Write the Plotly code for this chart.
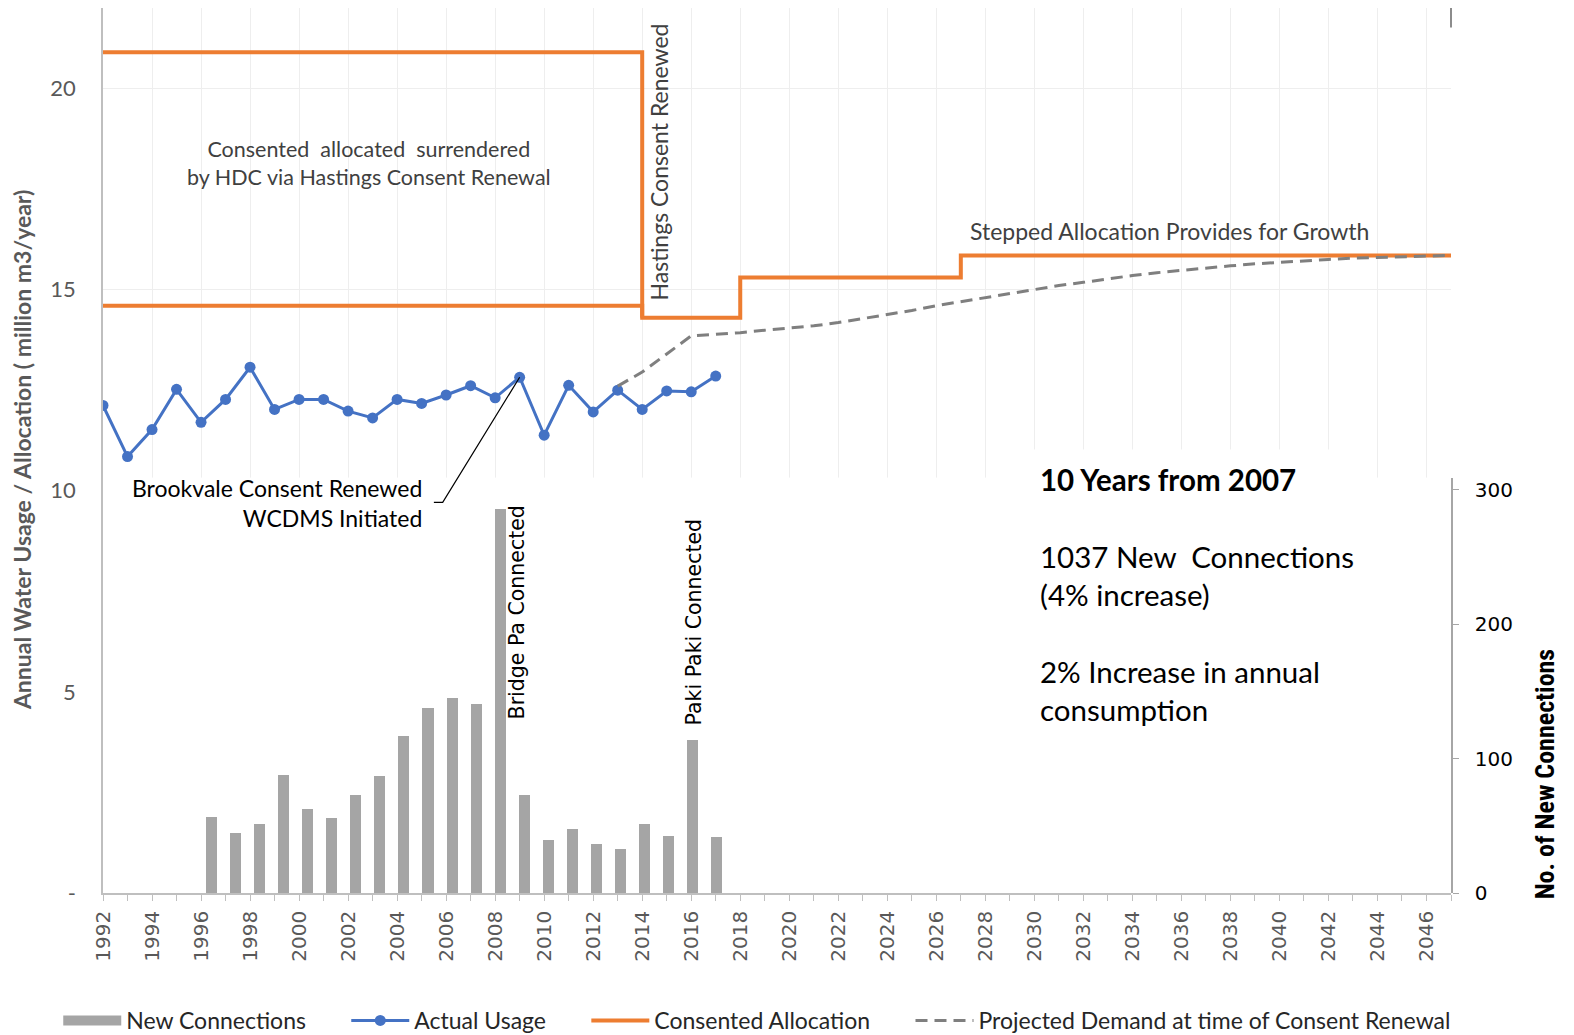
import plotly.graph_objects as go

# ---------------- data ----------------
usage_years = list(range(1992, 2018))
actual_usage = [12.12, 10.85, 11.52, 12.52, 11.70, 12.27, 13.07, 12.02, 12.27, 12.27,
                11.98, 11.81, 12.27, 12.17, 12.38, 12.61, 12.31, 12.82, 11.38, 12.62,
                11.96, 12.50, 12.02, 12.48, 12.46, 12.85]

conn_years = list(range(1996, 2018))
new_connections = [57, 45, 52, 88, 63, 56, 73, 87, 117, 138, 145, 141, 286, 73,
                   40, 48, 37, 33, 52, 43, 114, 42]

alloc_old_years = [1992, 2014]
alloc_old = [20.9, 14.3]
alloc_years = [1992, 2014, 2018, 2027, 2047]
alloc = [14.6, 14.3, 15.3, 15.85, 15.85]

proj_years = list(range(2013, 2048))
projected = [12.6, 12.95, 13.4, 13.85, 13.89, 13.93, 13.99, 14.05, 14.1, 14.18,
             14.28, 14.38, 14.48, 14.6, 14.7, 14.8, 14.9, 15.0, 15.1, 15.18,
             15.27, 15.35, 15.42, 15.48, 15.54, 15.59, 15.64, 15.68, 15.72, 15.75,
             15.78, 15.8, 15.82, 15.84, 15.85]

x_tick_vals = list(range(1992, 2047, 2))
left_tick_vals = [0, 5, 10, 15, 20]
left_tick_text = ["-", "5", "10", "15", "20"]
right_tick_vals = [0, 100, 200, 300]

BLUE = "#4472C4"
ORANGE = "#ED7D31"
BARGRAY = "#A5A5A5"
DASHGRAY = "#7F7F7F"
CAL = "Lato, 'Open Sans', sans-serif"
GOTH = "'DejaVu Sans', sans-serif"
PAD = "\u00a0" * 6

fig = go.Figure()

fig.add_trace(go.Bar(
    x=conn_years, y=new_connections, name="New Connections",
    marker=dict(color=BARGRAY, line=dict(width=0)), width=0.46,
    xaxis="x2", yaxis="y2", showlegend=False))

# legend proxy for the bars (wide grey swatch)
fig.add_trace(go.Scatter(
    x=[None], y=[None], name="New Connections" + PAD, mode="lines",
    line=dict(color=BARGRAY, width=14)))

fig.add_trace(go.Scatter(
    x=usage_years, y=actual_usage, name="Actual Usage" + PAD, mode="lines+markers",
    line=dict(color=BLUE, width=3), marker=dict(color=BLUE, size=11)))

fig.add_trace(go.Scatter(
    x=alloc_years, y=alloc, name="Consented Allocation" + PAD, mode="lines",
    line=dict(color=ORANGE, width=4, shape="hv")))

fig.add_trace(go.Scatter(
    x=alloc_old_years, y=alloc_old, name="Consented Allocation", mode="lines",
    line=dict(color=ORANGE, width=4, shape="hv"), showlegend=False))

fig.add_trace(go.Scatter(
    x=proj_years, y=projected, name="Projected Demand at time of Consent Renewal",
    mode="lines", line=dict(color=DASHGRAY, width=3, dash="12px,7px")))

annotations = [
    dict(x=2002.85, y=18.15, xref="x", yref="y", showarrow=False,
         text="Consented  allocated  surrendered<br>by HDC via Hastings Consent Renewal",
         font=dict(family=CAL, size=21.5, color="#404040"), align="center"),
    dict(x=2014.7, y=18.17, xref="x", yref="y", showarrow=False, textangle=-90,
         text="Hastings Consent Renewed",
         font=dict(family=CAL, size=23, color="#404040")),
    dict(x=2035.5, y=16.46, xref="x", yref="y", showarrow=False,
         text="Stepped Allocation Provides for Growth",
         font=dict(family=CAL, size=23, color="#404040")),
    dict(x=2005.1, y=9.70, xref="x", yref="y", showarrow=False, xanchor="right",
         align="right", text="Brookvale Consent Renewed<br>WCDMS Initiated",
         font=dict(family=CAL, size=23, color="#000000")),
    dict(x=2008.9, y=6.98, xref="x", yref="y", showarrow=False, textangle=-90,
         text="Bridge Pa Connected", font=dict(family=GOTH, size=20.5, color="#000000")),
    dict(x=2016.12, y=6.73, xref="x", yref="y", showarrow=False, textangle=-90,
         text="Paki Paki Connected", font=dict(family=GOTH, size=20.5, color="#000000")),
    dict(x=2029.7, y=7.43, xref="x", yref="y", showarrow=False, xanchor="left",
         yanchor="middle", align="left", bgcolor="white", borderpad=12,
         text="<b>10 Years from 2007</b><br><br>1037 New  Connections<br>(4% increase)"
              "<br><br>2% Increase in annual<br>consumption",
         font=dict(family=CAL, size=29.5, color="#000000")),
    dict(x=-0.060, y=0.5006, xref="paper", yref="paper", showarrow=False, textangle=-90,
         xanchor="center", yanchor="middle",
         text="<b>Annual Water Usage / Allocation ( million m3/year)</b>",
         font=dict(family=CAL, size=23, color="#595959")),
    dict(x=1.0704, y=0.134, xref="paper", yref="paper", showarrow=False, textangle=-90,
         xanchor="center", yanchor="middle",
         text="<b>No. of New Connections</b>",
         font=dict(family="'Liberation Sans Narrow', 'Roboto Condensed', sans-serif",
                   size=26, color="#000000")),
]

shapes = [
    dict(type="path", xref="x", yref="y",
         path="M 2005.5 9.71 L 2005.86 9.71 L 2009 12.82",
         line=dict(color="#000000", width=1.2)),
    dict(type="line", xref="paper", yref="paper", x0=1, x1=1, y0=0.978, y1=1.0,
         line=dict(color="#8C8C8C", width=2)),
]

# page body has an 8px margin: figure is sized to the visible area
fig.update_layout(
    width=1566, height=1027,
    margin=dict(l=95, r=123, t=0, b=142, autoexpand=False),
    paper_bgcolor="white", plot_bgcolor="white",
    bargap=0,
    showlegend=True,
    legend=dict(orientation="h", x=-0.0332, xanchor="left", y=-0.144, yanchor="middle",
                font=dict(family=CAL, size=23, color="#262626"), itemwidth=58,
                traceorder="normal"),
    xaxis=dict(range=[1992, 2047], tickmode="array", tickvals=x_tick_vals,
               ticktext=[str(v) for v in x_tick_vals], tickangle=-90,
               tickfont=dict(family=GOTH, size=20, color="#595959"),
               showgrid=True, gridcolor="#EEEEEE", gridwidth=1,
               showline=True, linecolor="#BFBFBF", linewidth=1.5,
               ticks="outside", ticklen=6, tickcolor="#BFBFBF",
               ticklabelstandoff=2,
               minor=dict(dtick=1, tick0=1992, ticks="outside", ticklen=6,
                          tickcolor="#BFBFBF", showgrid=False),
               zeroline=False, automargin=False),
    yaxis=dict(range=[0, 22], tickmode="array", tickvals=left_tick_vals,
               ticktext=left_tick_text,
               tickfont=dict(family=CAL, size=22, color="#595959"),
               showgrid=True, gridcolor="#EEEEEE", gridwidth=1,
               showline=True, linecolor="#BFBFBF", linewidth=1.5,
               ticks="", ticklabelstandoff=21, zeroline=False, automargin=False),
    xaxis2=dict(overlaying="x", range=[1991.5, 2047.5], visible=False, anchor="y2"),
    yaxis2=dict(domain=[0, 0.4694], range=[0, 309], anchor="x2", side="right",
                tickmode="array", tickvals=right_tick_vals,
                tickfont=dict(family=GOTH, size=20, color="#000000"),
                showgrid=False, showline=True, linecolor="#A6A6A6", linewidth=1.5,
                ticks="outside", ticklen=6, tickcolor="#A6A6A6",
                ticklabelstandoff=12, zeroline=False, automargin=False),
    annotations=annotations,
    shapes=shapes,
)

fig.write_html("out.html")
